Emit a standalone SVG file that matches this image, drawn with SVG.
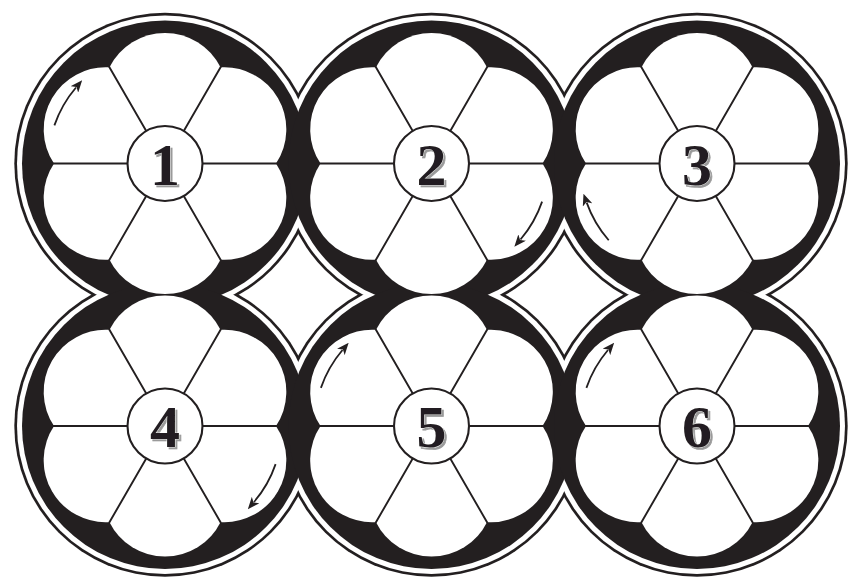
<svg xmlns="http://www.w3.org/2000/svg" xmlns:xlink="http://www.w3.org/1999/xlink" width="849" height="577" viewBox="0 0 849 577">
<style>
.ink{fill:#231f20}
.paper{fill:#ffffff}
.petal{fill:#ffffff;stroke:none}
.spoke{fill:none;stroke:#231f20;stroke-width:1.9}
.hub{fill:#ffffff;stroke:#231f20;stroke-width:2.1}
.num{font-family:"Liberation Serif","DejaVu Serif",serif;font-weight:bold;font-size:60px;text-anchor:middle;fill:#231f20;stroke:#ffffff;stroke-width:0.7;paint-order:stroke;filter:url(#shade)}
.arrow{fill:none;stroke:#231f20;stroke-width:1.8}
</style>
<defs>
<filter id="shade" x="-20%" y="-20%" width="150%" height="150%">
<feOffset in="SourceAlpha" dx="1.8" dy="1.8" result="off"/>
<feFlood flood-color="#9a9a9a"/>
<feComposite in2="off" operator="in" result="sh"/>
<feMerge><feMergeNode in="sh"/><feMergeNode in="SourceGraphic"/></feMerge>
</filter>
<marker id="head" markerUnits="userSpaceOnUse" markerWidth="12" markerHeight="10" viewBox="0 0 12 10" refX="2.5" refY="5" orient="auto">
<path d="M0 0 L12 5 L0 10 L3.2 5 Z" fill="#231f20"/>
</marker>
<g id="flower">
<path class="petal" d="M0 0 L111 0 A62 62 0 0 1 55.5 96.13 Z"/>
<path class="petal" d="M0 0 L55.5 96.13 A62 62 0 0 1 -55.5 96.13 Z"/>
<path class="petal" d="M0 0 L-55.5 96.13 A62 62 0 0 1 -111 0 Z"/>
<path class="petal" d="M0 0 L-111 0 A62 62 0 0 1 -55.5 -96.13 Z"/>
<path class="petal" d="M0 0 L-55.5 -96.13 A62 62 0 0 1 55.5 -96.13 Z"/>
<path class="petal" d="M0 0 L55.5 -96.13 A62 62 0 0 1 111 0 Z"/>
<path class="spoke" d="M-112 0 H112 M-56 -97 L56 97 M56 -97 L-56 97"/>
<circle class="hub" cx="0" cy="0" r="37.5"/>
</g>
<path id="arc" class="arrow" d="M-110.6 -38.1 A117 117 0 0 1 -89 -76" marker-end="url(#head)"/>
</defs>
<g id="frame">
<g class="ink">
<circle cx="165" cy="163.5" r="150.7"/><circle cx="431.5" cy="163.5" r="150.7"/><circle cx="697" cy="163.5" r="150.7"/>
<circle cx="165" cy="426" r="150.7"/><circle cx="431.5" cy="426" r="150.7"/><circle cx="697" cy="426" r="150.7"/>
</g>
<g class="paper">
<circle cx="165" cy="163.5" r="148"/><circle cx="431.5" cy="163.5" r="148"/><circle cx="697" cy="163.5" r="148"/>
<circle cx="165" cy="426" r="148"/><circle cx="431.5" cy="426" r="148"/><circle cx="697" cy="426" r="148"/>
</g>
<g class="ink">
<circle cx="165" cy="163.5" r="143"/><circle cx="431.5" cy="163.5" r="143"/><circle cx="697" cy="163.5" r="143"/>
<circle cx="165" cy="426" r="143"/><circle cx="431.5" cy="426" r="143"/><circle cx="697" cy="426" r="143"/>
</g>
</g>
<g id="node1" transform="translate(165 163.5)">
<use xlink:href="#flower"/>
<text class="num" x="0" y="21">1</text>
</g>
<g id="node2" transform="translate(431.5 163.5)">
<use xlink:href="#flower"/>
<text class="num" x="0" y="21">2</text>
</g>
<g id="node3" transform="translate(697 163.5)">
<use xlink:href="#flower"/>
<text class="num" x="0" y="21">3</text>
</g>
<g id="node4" transform="translate(165 426)">
<use xlink:href="#flower"/>
<text class="num" x="0" y="21">4</text>
</g>
<g id="node5" transform="translate(431.5 426)">
<use xlink:href="#flower"/>
<text class="num" x="0" y="21">5</text>
</g>
<g id="node6" transform="translate(697 426)">
<use xlink:href="#flower"/>
<text class="num" x="0" y="21">6</text>
</g>
<g id="connectors">
<use xlink:href="#arc" transform="translate(165 163.5)"/>
<use xlink:href="#arc" transform="translate(431.5 163.5) rotate(-180)"/>
<use xlink:href="#arc" transform="translate(697 163.5) rotate(-60)"/>
<use xlink:href="#arc" transform="translate(165 426) rotate(-180)"/>
<use xlink:href="#arc" transform="translate(431.5 426)"/>
<use xlink:href="#arc" transform="translate(697 426)"/>
</g>
</svg>
